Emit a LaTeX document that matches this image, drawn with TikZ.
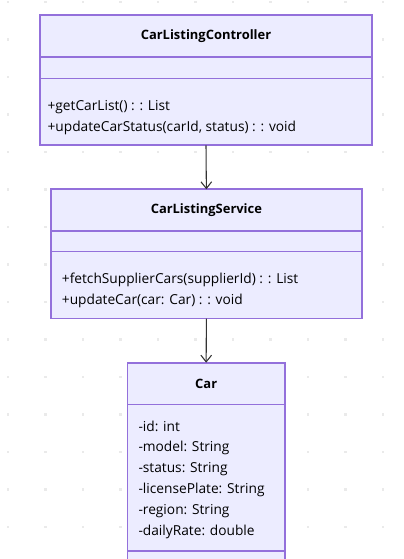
\documentclass[tikz,border=0pt]{standalone}
\usepackage{fontspec}
\setmainfont{Open Sans}
\usetikzlibrary{arrows.meta, positioning}
\definecolor{classfill}{HTML}{ECECFF}
\definecolor{classline}{HTML}{9370DB}
\definecolor{edgeline}{HTML}{333333}
\definecolor{griddot}{HTML}{EAEAEA}

\begin{document}
\begin{tikzpicture}[
  x=0.75pt, y=-0.75pt,
  font=\fontsize{10.3}{15.6}\selectfont,
  classpart/.style={draw=classline, fill=classfill, line width=1.2pt, inner sep=0pt, outer sep=0pt},
  classname/.style={font=\fontsize{9.7}{12}\selectfont\bfseries},
  members/.style={align=left, anchor=west, inner sep=0pt},
  arrow/.style={-{Straight Barb[length=5pt, width=8pt]}, edgeline, line width=0.8pt}
]
\useasboundingbox (0,0) rectangle (403,559);
\clip (0,0) rectangle (403,559);

% --- Background dots ---
\foreach \i in {0,...,10}
  \foreach \j in {0,...,14}
    \fill[griddot] ({8+37.5*\i-1.2},{2+37.5*\j-1.2}) rectangle ++(2.4,2.4);

% --- CarListingController ---
\node[classpart, classname, minimum width=249pt, minimum height=31.5pt, anchor=north west] (ctrlTitle) at (40,15.3) {CarListingController};
\node[classpart, minimum width=249pt, minimum height=16pt, below=0pt of ctrlTitle] (ctrlAttr) {};
\node[classpart, minimum width=249pt, minimum height=50pt, below=0pt of ctrlAttr] (ctrlOps) {};
\node[members] (ctrlOpsText) at ([xshift=5.5pt, yshift=-4pt]ctrlOps.west)
{+getCarList() : : List\\
+updateCarStatus(carId, status) : : void};

% --- CarListingService ---
\node[classpart, classname, minimum width=233.5pt, minimum height=31.3pt, anchor=north west] (svcTitle) at (50.7,189.3) {CarListingService};
\node[classpart, minimum width=233.5pt, minimum height=15.2pt, below=0pt of svcTitle] (svcAttr) {};
\node[classpart, minimum width=233.5pt, minimum height=50.5pt, below=0pt of svcAttr] (svcOps) {};
\node[members] (svcOpsText) at ([xshift=8.2pt, yshift=-4.3pt]svcOps.west)
{+fetchSupplierCars(supplierId) : : List\\
+updateCar(car: Car) : : void};

% --- Car ---
\node[classpart, classname, minimum width=118.3pt, minimum height=31.2pt, anchor=north west] (carTitle) at (127.3,362.7) {Car};
\node[classpart, minimum width=118.3pt, minimum height=110pt, below=0pt of carTitle] (carAttr) {};
\node[members] (carAttrText) at ([xshift=8.2pt, yshift=-1.4pt]carAttr.west)
{-id: int\\
-model: String\\
-status: String\\
-licensePlate: String\\
-region: String\\
-dailyRate: double};
\node[classpart, minimum width=118.3pt, minimum height=30pt, below=0pt of carAttr] (carOps) {};

% --- Arrows ---
\draw[arrow] (ctrlOps.south) -- (svcTitle.north);
\draw[arrow] (svcOps.south) -- (carTitle.north);

\end{tikzpicture}
\end{document}
